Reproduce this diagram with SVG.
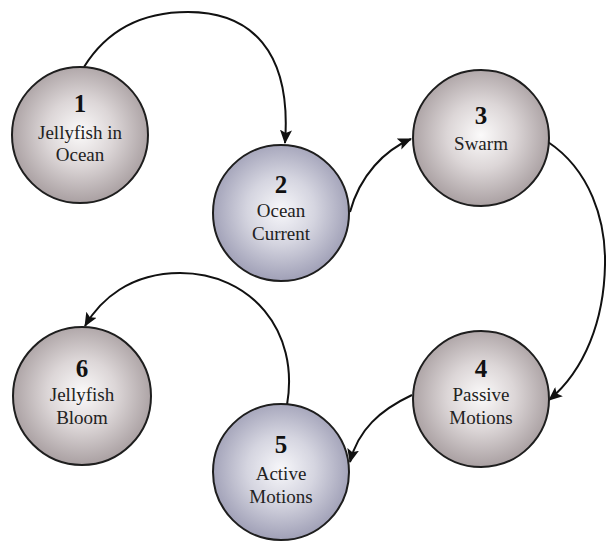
<svg xmlns="http://www.w3.org/2000/svg" width="606" height="544" viewBox="0 0 606 544">
<style>
.node{stroke:#1e1e1e;stroke-width:2}
.warm{fill:url(#gWarm)}
.cool{fill:url(#gCool)}
text{font-family:'Liberation Serif','Times New Roman',Times,'DejaVu Serif',serif;text-anchor:middle}
.num{font-weight:bold;font-size:25px;fill:#111}
.lbl{font-size:19px;fill:#222}
.edge{fill:none;stroke:#111;stroke-width:2;marker-end:url(#arrow)}
</style>
<defs>
<radialGradient id="gWarm" cx="50%" cy="48%" r="55%">
<stop offset="0" stop-color="#fbfafa"/>
<stop offset="0.45" stop-color="#dcd6d7"/>
<stop offset="1" stop-color="#a49a9c"/>
</radialGradient>
<radialGradient id="gCool" cx="50%" cy="48%" r="55%">
<stop offset="0" stop-color="#f7f7fa"/>
<stop offset="0.45" stop-color="#d5d5e0"/>
<stop offset="1" stop-color="#9a9ab2"/>
</radialGradient>
<marker id="arrow" viewBox="0 0 14 12" refX="13" refY="6" markerWidth="14" markerHeight="12" markerUnits="userSpaceOnUse" orient="auto">
<path d="M0,0 L14,6 L0,12 L3,6 Z" fill="#111"/>
</marker>
</defs>
<g id="connectors">
<path class="edge" d="M84,67 C110,25 150,12 188,12 C250,12 292,50 285,143"/>
<path class="edge" d="M350,212 C360,175 385,150 411,139"/>
<path class="edge" d="M548,142 C590,170 606,220 605,265 C604,320 585,370 549,400"/>
<path class="edge" d="M412,395 C380,410 358,430 350,462"/>
<path class="edge" d="M287,405 C300,330 250,273 180,273 C130,273 100,300 85,326"/>
</g>
<g id="node1">
<circle class="node warm" cx="80" cy="135" r="68"/>
<text class="num" x="80" y="112">1</text>
<text class="lbl" x="80" y="139">Jellyfish in</text>
<text class="lbl" x="80" y="161">Ocean</text>
</g>
<g id="node2">
<circle class="node cool" cx="281" cy="213" r="68"/>
<text class="num" x="281" y="193">2</text>
<text class="lbl" x="281" y="217">Ocean</text>
<text class="lbl" x="281" y="240">Current</text>
</g>
<g id="node3">
<circle class="node warm" cx="481" cy="138" r="68"/>
<text class="num" x="481" y="124">3</text>
<text class="lbl" x="481" y="150">Swarm</text>
</g>
<g id="node4">
<circle class="node warm" cx="481" cy="399" r="68"/>
<text class="num" x="481" y="377">4</text>
<text class="lbl" x="481" y="401">Passive</text>
<text class="lbl" x="481" y="424">Motions</text>
</g>
<g id="node5">
<circle class="node cool" cx="281" cy="472" r="68"/>
<text class="num" x="281" y="453">5</text>
<text class="lbl" x="281" y="480">Active</text>
<text class="lbl" x="281" y="503">Motions</text>
</g>
<g id="node6">
<circle class="node warm" cx="82" cy="396" r="69"/>
<text class="num" x="82" y="377">6</text>
<text class="lbl" x="82" y="401">Jellyfish</text>
<text class="lbl" x="82" y="424">Bloom</text>
</g>
</svg>
